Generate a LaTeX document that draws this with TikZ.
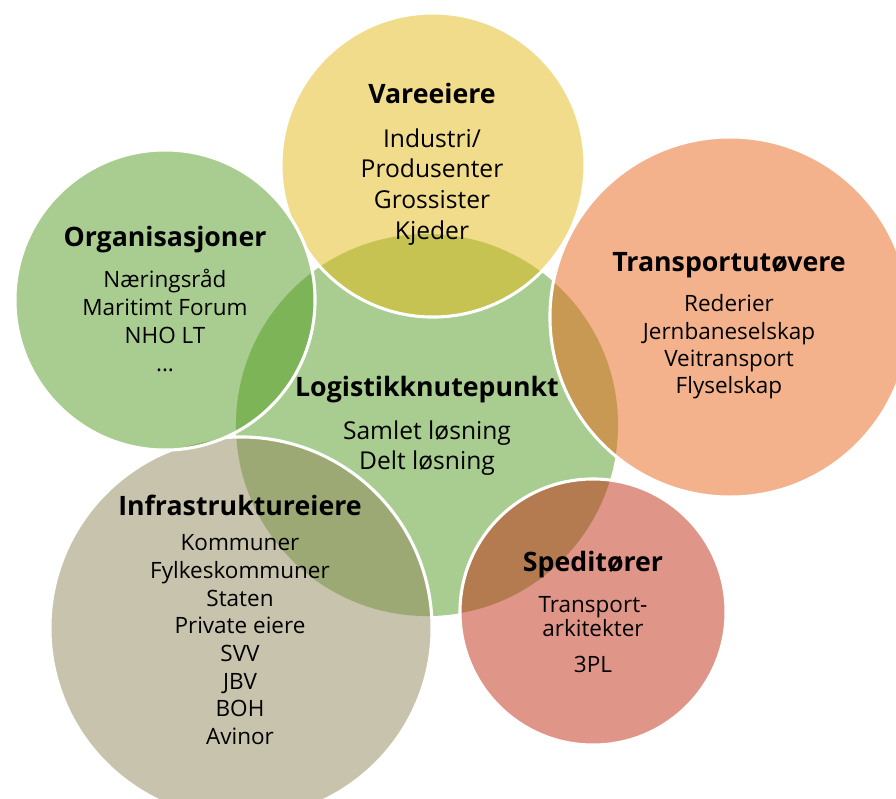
\documentclass[tikz,border=0pt]{standalone}
\usepackage{fontspec}
\setmainfont{Open Sans}

\definecolor{gronn}{RGB}{83,155,33}
\definecolor{gul}{RGB}{227,185,25}
\definecolor{oransje}{RGB}{231,101,25}
\definecolor{rosa}{RGB}{193,43,19}
\definecolor{beige}{RGB}{145,135,89}

\newcommand\tittel[1]{{\fontsize{19}{23}\selectfont\bfseries #1}}

\begin{document}
\begin{tikzpicture}[
  x=0.025cm, y=-0.025cm,
  krets/.style={circle,draw=white,line width=2.2pt,fill opacity=0.5,
    inner sep=0pt,minimum size=#1*0.5mm},
  tekst/.style={align=center,inner sep=0pt,font=\fontsize{16}{19.7}\selectfont}
]
  \clip (0,0) rectangle (896,798);
  % sirklene
  \node[krets=191,fill=gronn,draw=none] (knute) at (427,425) {};
  \node[krets=152,fill=gul]     (vare)   at (433,165) {};
  \node[krets=180,fill=oransje] (transp) at (730,317) {};
  \node[krets=133,fill=rosa]    (sped)   at (593,612) {};
  \node[krets=191,fill=beige]   (infra)  at (241,628) {};
  \node[krets=150,fill=gronn]   (org)    at (165,300) {};
  % tekstene
  \node[tekst,font=\fontsize{17.5}{21.3}\selectfont] (knute-txt) at (427,426)
    {\tittel{Logistikknutepunkt}\\[9.3pt]Samlet løsning\\Delt løsning};
  \node[tekst,font=\fontsize{17.5}{21.8}\selectfont] (vare-txt) at (432,164)
    {\tittel{Vareeiere}\\[9.5pt]Industri/\\Produsenter\\Grossister\\Kjeder};
  \node[tekst,font=\fontsize{16}{19.4}\selectfont] (transp-txt) at (729,326)
    {\tittel{Transportutøvere}\\[9.1pt]Rederier\\Jernbaneselskap\\Veitransport\\Flyselskap};
  \node[tekst,font=\fontsize{16}{19.4}\selectfont] (sped-txt) at (593,612)
    {\tittel{Speditører}\\[9.1pt]Transport-\\[-2.3pt]arkitekter\\[6.2pt]3PL};
  \node[tekst] (infra-txt) at (240,620)
    {\tittel{Infrastruktureiere}\\[5.2pt]Kommuner\\Fylkeskommuner\\Staten\\Private eiere\\SVV\\JBV\\BOH\\Avinor};
  \node[tekst,font=\fontsize{16}{19.9}\selectfont] (org-txt) at (165,299)
    {\tittel{Organisasjoner}\\[9.3pt]Næringsråd\\Maritimt Forum\\NHO LT\\...};
\end{tikzpicture}
\end{document}
